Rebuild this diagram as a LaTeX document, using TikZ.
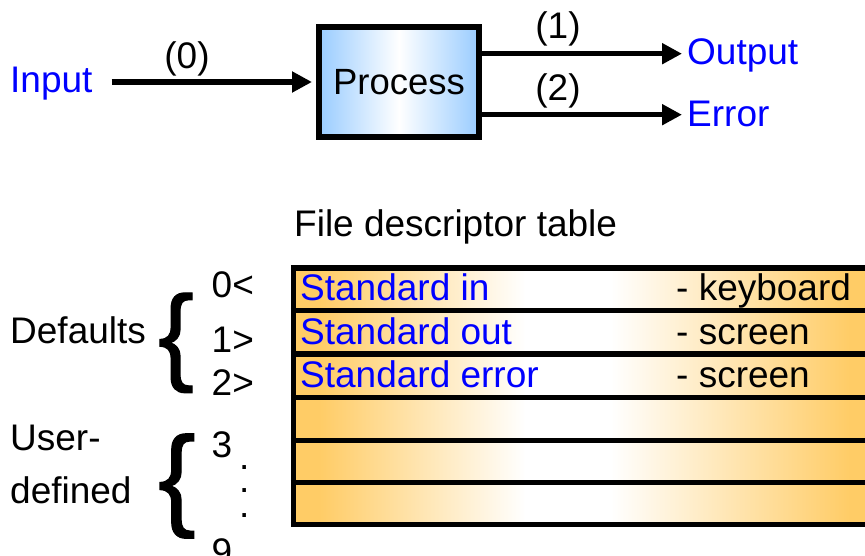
\documentclass[tikz,border=0pt]{standalone}
\usepackage{fontspec}
\setmainfont{Liberation Sans}
\newfontfamily\bracefont[FakeBold=1.2]{Liberation Sans}
\usetikzlibrary{arrows.meta}

\definecolor{fdblue}{RGB}{0,0,255}
\definecolor{procblue}{RGB}{153,204,255}
\definecolor{rowgold}{RGB}{255,204,102}

% gold at both ends, a white band in the middle of each table row
% (the 25bp--75bp part of the shading covers the row)
\pgfdeclarehorizontalshading{rowshade}{100bp}{%
  color(0bp)=(rowgold); color(27bp)=(rowgold);
  color(45bp)=(white); color(52.4bp)=(white);
  color(73.3bp)=(rowgold); color(100bp)=(rowgold)}

\begin{document}
\begin{tikzpicture}[x=1pt,y=-1pt,
  txt/.style={font=\fontsize{37}{40}\selectfont, inner sep=0pt, anchor=base west},
  ctxt/.style={txt, anchor=base},
  bluetxt/.style={txt, text=fdblue},
  dot/.style={txt, text height=4pt, text depth=0pt},
  link/.style={line width=5.5pt, -{Triangle[length=20pt,width=20pt]}},
  procbox/.style={draw, line width=6pt, minimum width=160pt, minimum height=110pt,
    left color=procblue, right color=procblue, middle color=white,
    font=\fontsize{36.5}{40}\selectfont, inner sep=0pt},
  tableline/.style={line width=5.5pt},
  bracetxt/.style={inner sep=0pt, anchor=base west}]
\useasboundingbox (0,0) rectangle (865,556);

% ---- process with its streams ----
\node[procbox] (proc) at (399,82) {\raisebox{-2pt}{Process}};
\node[bluetxt] (in)  at (10,93)  {Input};
\node[bluetxt] (out) at (687,65) {Output};
\node[bluetxt] (err) at (687,127) {Error};

\draw[link] ([xshift=19pt]in.east |- proc.west) -- ([xshift=-4pt]proc.west);
\draw[link] ([yshift=28.3pt]proc.east) -- ([yshift=28.3pt, xshift=-5pt]proc.east -| out.west);
\draw[link] ([yshift=-32.7pt]proc.east) -- ([yshift=-32.7pt, xshift=-5pt]proc.east -| err.west);

\node[ctxt] (l0) at (187,69)  {(0)};
\node[ctxt] (l1) at (558,38.5) {(1)};
\node[ctxt] (l2) at (558,101) {(2)};

% ---- file descriptor table ----
\node[txt] (title) at (294,237) {File descriptor table};

\foreach \ya/\yb in {268/310.5, 310.5/354, 354/397.5, 397.5/440.5, 440.5/482.5, 482.5/524.5}
  \shade[shading=rowshade] (296,\ya) rectangle (870,\yb);
\foreach \yy in {268, 310.5, 354, 397.5, 440.5, 482.5, 524.5}
  \draw[tableline] (290.75,\yy) -- (872,\yy);
\draw[tableline] (293.5,265.25) -- (293.5,527.25);

\node[bluetxt] (sin)  at (300,300) {Standard in};
\node[bluetxt] (sout) at (300,344) {Standard out};
\node[bluetxt] (serr) at (300,387.5) {Standard error};
\node[txt] (kbd)  at (676,300) {- keyboard};
\node[txt] (scr1) at (676,344) {- screen};
\node[txt] (scr2) at (676,387.5) {- screen};

% ---- descriptor numbers ----
\node[txt] (n0) at (211.5,297) {0<};
\node[txt] (n1) at (211.5,352) {1>};
\node[txt] (n2) at (211.5,395) {2>};
\node[txt] (n3) at (211.5,457) {3};
\node[dot] (dA) at (239,469) {.};
\node[dot] (dB) at (239,492) {.};
\node[dot] (dC) at (239,517) {.};
\node[txt] (n9) at (211.5,564) {9};

% ---- groups ----
\node[txt] (defaults) at (10,343) {Defaults};
\node[txt] (user)     at (10,450) {User-};
\node[txt] (defined)  at (10,503) {defined};
\node[bracetxt, font=\bracefont\fontsize{107}{107}\selectfont] (bdef) at (158,370.5) {\{};
\node[bracetxt, font=\bracefont\fontsize{112}{112}\selectfont] (busr) at (158,515) {\{};
\end{tikzpicture}
\end{document}
